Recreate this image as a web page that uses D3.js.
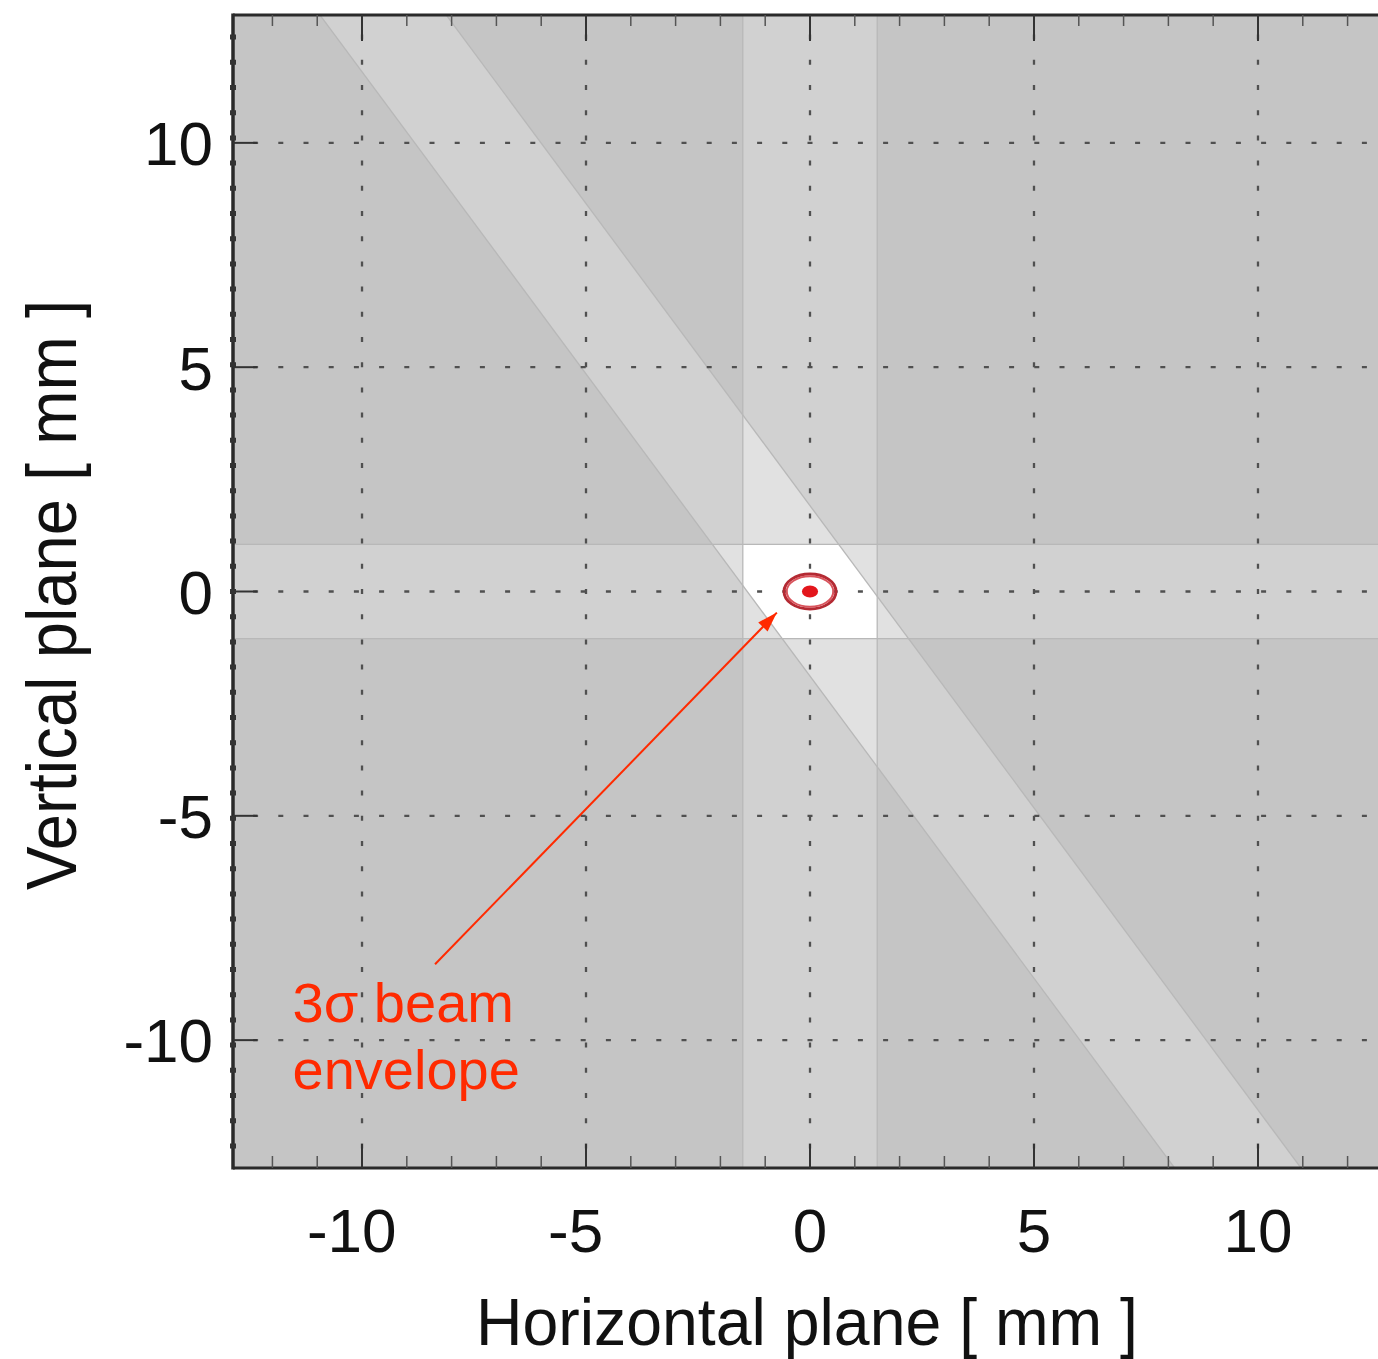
<!DOCTYPE html>
<html>
<head>
<meta charset="utf-8">
<script src="https://cdn.jsdelivr.net/npm/d3@7"></script>
<style>
  html, body { margin: 0; padding: 0; background: #fff; }
  svg { display: block; }
</style>
</head>
<body>
<svg id="chart" width="1378" height="1359"></svg>
<script>
// Axis ticks (mm)
const xTicks = [-10, -5, 0, 5, 10];
const yTicks = [-10, -5, 0, 5, 10];
const xTickLabels = ["-10", "-5", "0", "5", "10"];
const yTickLabels = ["-10", "-5", "0", "5", "10"];
const xMinorTicks = [-12, -11, -9, -8, -7, -6, -4, -3, -2, -1, 1, 2, 3, 4, 6, 7, 8, 9, 11, 12];

// Aperture bands (mm)
const verticalBand = [-1.5, 1.5];          // horizontal extent of the vertical slot
const horizontalBand = [-1.05, 1.05];      // vertical extent of the horizontal slot
const diagonalSlope = -1.347;              // dy/dx of the skew slot
const diagonalEdges = [-1.4, 1.42];        // x-intercepts of the skew slot edges at y = 0

// Beam at the origin (mm)
const envelopeRadii = [0.58, 0.39];
const innerRingRadii = [0.52, 0.34];
const coreRadii = [0.18, 0.135];

// Annotation (mm)
const annotationLines = ["3σ beam", "envelope"];
const annotationAnchor = [-11.55, -9.6];
const arrowStart = [-8.37, -8.31];
const arrowEnd = [-0.74, -0.47];

const svg = d3.select("#chart");
const plot = { left: 233, top: 15, right: 1387, bottom: 1168 };

const x = d3.scaleLinear().domain([-12.88, 12.88]).range([plot.left, plot.right]);
const y = d3.scaleLinear().domain([-12.85, 12.85]).range([plot.bottom, plot.top]);

const defs = svg.append("defs");
function clipPx(id, x0, x1, y0, y1) {
  defs.append("clipPath").attr("id", id).append("rect")
    .attr("x", x0).attr("width", x1 - x0)
    .attr("y", y0).attr("height", y1 - y0);
}
clipPx("clip-plot", plot.left, plot.right, plot.top, plot.bottom);
clipPx("clip-v", x(verticalBand[0]), x(verticalBand[1]), plot.top, plot.bottom);
clipPx("clip-h", plot.left, plot.right, y(horizontalBand[1]), y(horizontalBand[0]));
clipPx("clip-vh", x(verticalBand[0]), x(verticalBand[1]), y(horizontalBand[1]), y(horizontalBand[0]));

const D = 14;
const edgeX = (x0, yv) => x0 + yv / diagonalSlope;
const diagPoints = [
  [edgeX(diagonalEdges[0], D), D], [edgeX(diagonalEdges[1], D), D],
  [edgeX(diagonalEdges[1], -D), -D], [edgeX(diagonalEdges[0], -D), -D]
];
const diagPath = d3.line().x(d => x(d[0])).y(d => y(d[1])).curve(d3.curveLinearClosed)(diagPoints);

const g = svg.append("g").attr("clip-path", "url(#clip-plot)");

// Background
g.append("rect").attr("x", plot.left).attr("y", plot.top)
  .attr("width", plot.right - plot.left).attr("height", plot.bottom - plot.top)
  .attr("fill", "#c5c5c5");

// Single slots
const one = "#d1d1d1", two = "#e1e1e1", three = "#ffffff";
g.append("rect").attr("x", x(verticalBand[0])).attr("width", x(verticalBand[1]) - x(verticalBand[0]))
  .attr("y", plot.top).attr("height", plot.bottom - plot.top).attr("fill", one);
g.append("rect").attr("y", y(horizontalBand[1])).attr("height", y(horizontalBand[0]) - y(horizontalBand[1]))
  .attr("x", plot.left).attr("width", plot.right - plot.left).attr("fill", one);
g.append("path").attr("d", diagPath).attr("fill", one);

// Pairwise overlaps
g.append("rect").attr("x", x(verticalBand[0])).attr("width", x(verticalBand[1]) - x(verticalBand[0]))
  .attr("y", y(horizontalBand[1])).attr("height", y(horizontalBand[0]) - y(horizontalBand[1])).attr("fill", two);
g.append("g").attr("clip-path", "url(#clip-v)").append("path").attr("d", diagPath).attr("fill", two);
g.append("g").attr("clip-path", "url(#clip-h)").append("path").attr("d", diagPath).attr("fill", two);

// Common acceptance of all three slots
g.append("g").attr("clip-path", "url(#clip-vh)").append("path").attr("d", diagPath).attr("fill", three);

// Slot edges
const edgeStyle = sel => sel.attr("stroke", "#b8b8b8").attr("stroke-width", 1.3).attr("fill", "none");
verticalBand.forEach(v => g.append("line").attr("x1", x(v)).attr("x2", x(v))
  .attr("y1", plot.top).attr("y2", plot.bottom).call(edgeStyle));
horizontalBand.forEach(v => g.append("line").attr("y1", y(v)).attr("y2", y(v))
  .attr("x1", plot.left).attr("x2", plot.right).call(edgeStyle));
diagonalEdges.forEach(x0 => g.append("line")
  .attr("x1", x(edgeX(x0, D))).attr("y1", y(D)).attr("x2", x(edgeX(x0, -D))).attr("y2", y(-D)).call(edgeStyle));

// Dotted grid: dashes placed symmetrically about the origin
const period = 25.2, dash = 5;
function phaseOffset(startPx, centerPx) {
  const s0 = Math.abs(centerPx - startPx) - dash / 2;
  return period - (((s0 % period) + period) % period);
}
const grid = svg.append("g").attr("clip-path", "url(#clip-plot)");
xTicks.forEach(t => grid.append("line")
  .attr("x1", x(t)).attr("x2", x(t)).attr("y1", plot.top).attr("y2", plot.bottom)
  .attr("stroke", "#505050").attr("stroke-width", 2.3)
  .attr("stroke-dasharray", `${dash} ${period - dash}`)
  .attr("stroke-dashoffset", phaseOffset(plot.top, y(0))));
yTicks.forEach(t => grid.append("line")
  .attr("y1", y(t)).attr("y2", y(t)).attr("x1", plot.left).attr("x2", plot.right)
  .attr("stroke", "#505050").attr("stroke-width", 2.3)
  .attr("stroke-dasharray", `${dash} ${period - dash}`)
  .attr("stroke-dashoffset", phaseOffset(plot.left, x(0))));

// Beam envelope
const cx = x(0), cy = y(0);
const kx = x(1) - x(0), ky = y(0) - y(1);
svg.append("ellipse").attr("cx", cx).attr("cy", cy)
  .attr("rx", envelopeRadii[0] * kx).attr("ry", envelopeRadii[1] * ky)
  .attr("fill", "none").attr("stroke", "#b42a33").attr("stroke-width", 3);
svg.append("ellipse").attr("cx", cx).attr("cy", cy)
  .attr("rx", innerRingRadii[0] * kx).attr("ry", innerRingRadii[1] * ky)
  .attr("fill", "none").attr("stroke", "#d9545c").attr("stroke-width", 2);
svg.append("ellipse").attr("cx", cx).attr("cy", cy)
  .attr("rx", coreRadii[0] * kx).attr("ry", coreRadii[1] * ky)
  .attr("fill", "#e3161c");

// Frame
const frame = svg.append("g").attr("stroke", "#2a2a2a").attr("fill", "none");
frame.append("line").attr("x1", plot.left).attr("x2", plot.right).attr("y1", plot.top).attr("y2", plot.top).attr("stroke-width", 3);
frame.append("line").attr("x1", plot.left).attr("x2", plot.right).attr("y1", plot.bottom).attr("y2", plot.bottom).attr("stroke-width", 3);
frame.append("line").attr("x1", plot.left).attr("x2", plot.left).attr("y1", plot.top - 1.5).attr("y2", plot.bottom + 1.5).attr("stroke-width", 3.5);
// marks along the left frame
frame.append("line").attr("x1", plot.left).attr("x2", plot.left).attr("y1", plot.top).attr("y2", plot.bottom)
  .attr("stroke-width", 6).attr("stroke", "#333")
  .attr("stroke-dasharray", `${dash} ${period - dash}`)
  .attr("stroke-dashoffset", phaseOffset(plot.top, y(0)));

// Ticks on top and bottom frames
const ticks = svg.append("g").attr("stroke", "#333").attr("stroke-width", 2);
xTicks.forEach(t => {
  ticks.append("line").attr("x1", x(t)).attr("x2", x(t)).attr("y1", plot.top).attr("y2", plot.top + 26);
  ticks.append("line").attr("x1", x(t)).attr("x2", x(t)).attr("y1", plot.bottom).attr("y2", plot.bottom - 24);
});
xMinorTicks.forEach(t => {
  ticks.append("line").attr("x1", x(t)).attr("x2", x(t)).attr("y1", plot.top).attr("y2", plot.top + 11).attr("stroke-width", 1.5).attr("stroke", "#555");
  ticks.append("line").attr("x1", x(t)).attr("x2", x(t)).attr("y1", plot.bottom).attr("y2", plot.bottom - 12).attr("stroke-width", 1.5).attr("stroke", "#555");
});
yTicks.forEach(t => ticks.append("line").attr("x1", plot.left).attr("x2", plot.left + 24).attr("y1", y(t)).attr("y2", y(t)));

// Tick labels
const font = "'Liberation Sans', Arial, Helvetica, sans-serif";
const tickSize = 62;
const digitW = 0.556 * tickSize;
svg.append("g").selectAll("text").data(xTicks).join("text")
  .attr("x", (d, i) => x(d) + xTickLabels[i].replace("-", "").length * digitW / 2)
  .attr("y", 1252)
  .attr("text-anchor", "end")
  .attr("font-family", font).attr("font-size", tickSize).attr("fill", "#111")
  .text((d, i) => xTickLabels[i]);
svg.append("g").selectAll("text").data(yTicks).join("text")
  .attr("x", 213)
  .attr("y", d => y(d))
  .attr("dy", "0.36em")
  .attr("text-anchor", "end")
  .attr("font-family", font).attr("font-size", tickSize).attr("fill", "#111")
  .text((d, i) => yTickLabels[i]);

// Axis titles
svg.append("text")
  .attr("x", 807).attr("y", 1345)
  .attr("text-anchor", "middle")
  .attr("font-family", font).attr("font-size", 67).attr("fill", "#111")
  .attr("textLength", 662).attr("lengthAdjust", "spacingAndGlyphs")
  .text("Horizontal plane [ mm ]");
svg.append("text")
  .attr("transform", "translate(76,595) rotate(-90)")
  .attr("text-anchor", "middle")
  .attr("font-family", font).attr("font-size", 70).attr("fill", "#111")
  .attr("textLength", 590).attr("lengthAdjust", "spacingAndGlyphs")
  .text("Vertical plane [ mm ]");

// Annotation arrow
const red = "#ff2a00";
defs.append("marker").attr("id", "arrowhead")
  .attr("viewBox", "-21 -8 22 16").attr("refX", 0).attr("refY", 0)
  .attr("markerWidth", 22).attr("markerHeight", 16)
  .attr("markerUnits", "userSpaceOnUse").attr("orient", "auto")
  .append("path").attr("d", "M0,0L-20,-6.5L-20,6.5Z").attr("fill", red);
svg.append("line")
  .attr("x1", x(arrowStart[0])).attr("y1", y(arrowStart[1]))
  .attr("x2", x(arrowEnd[0])).attr("y2", y(arrowEnd[1]))
  .attr("stroke", red).attr("stroke-width", 2)
  .attr("marker-end", "url(#arrowhead)");

svg.append("g").selectAll("text").data(annotationLines).join("text")
  .attr("x", x(annotationAnchor[0]))
  .attr("y", (d, i) => y(annotationAnchor[1]) + i * 67)
  .attr("font-family", font).attr("font-size", 56).attr("fill", red)
  .text(d => d);
</script>
</body>
</html>
